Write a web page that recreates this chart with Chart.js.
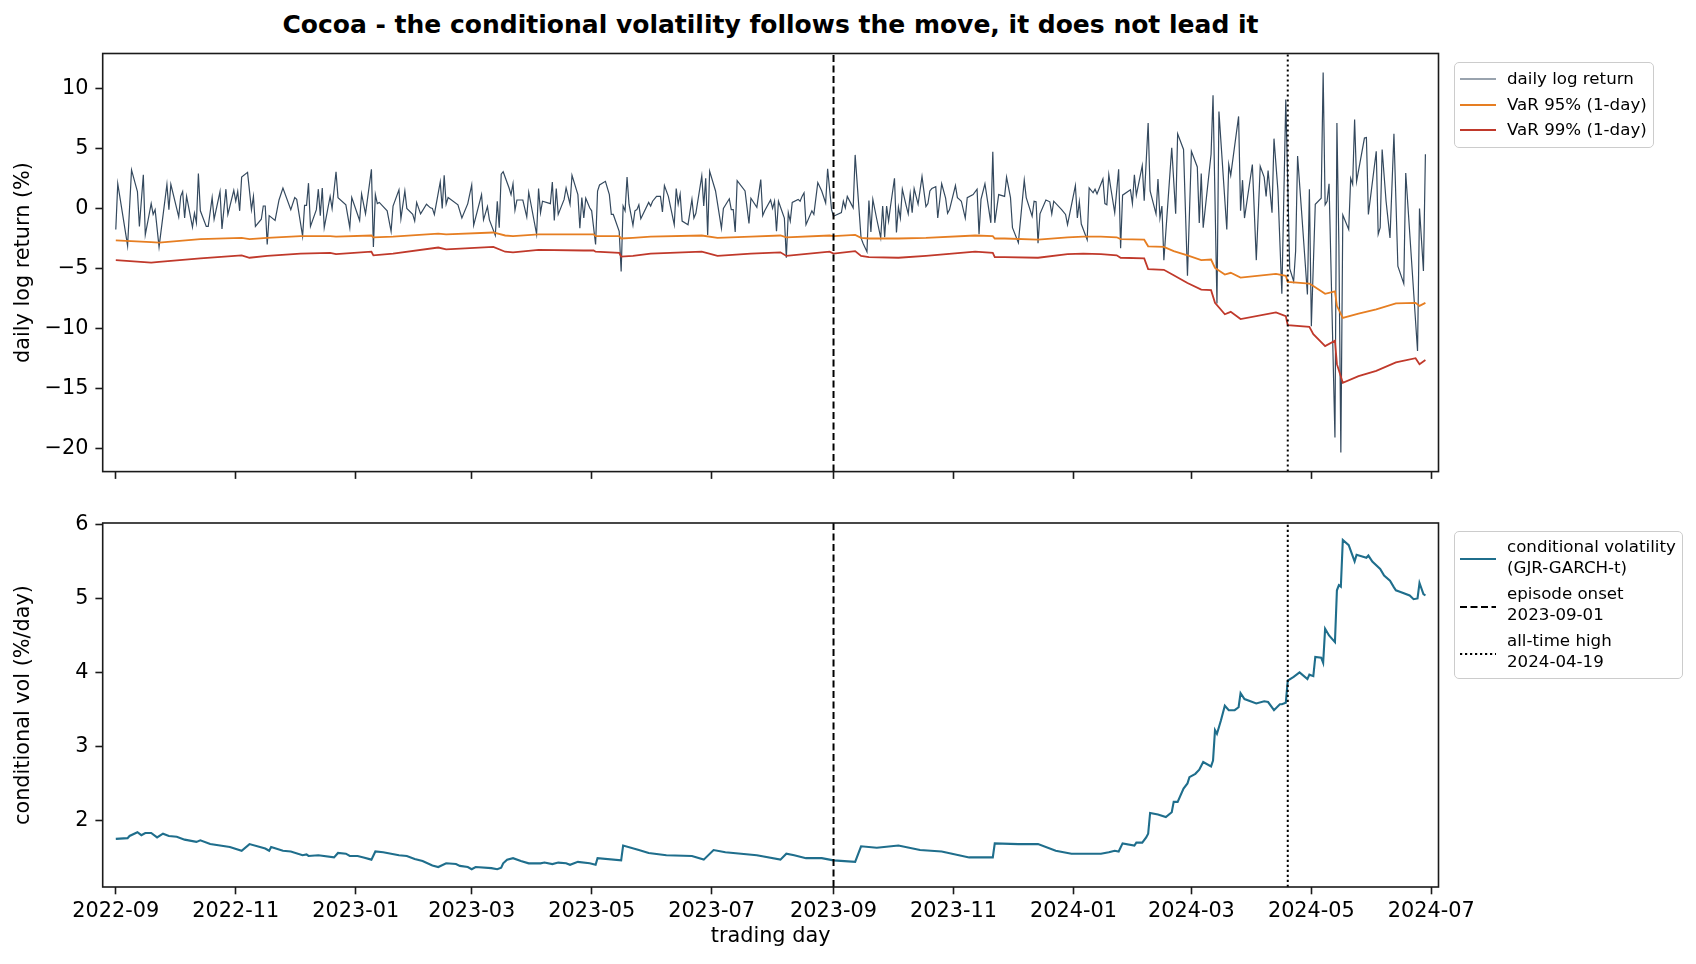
<!DOCTYPE html>
<html>
<head>
<meta charset="utf-8">
<script src="https://cdn.jsdelivr.net/npm/chart.js@4.4.1/dist/chart.umd.min.js"></script>
<style>
  body { margin: 0; background: #fff; width: 1696px; height: 964px; position: relative; overflow: hidden; font-family: "DejaVu Sans", sans-serif; }
  canvas { position: absolute; left: 0; }
  #title { position: absolute; left: 0; top: 9px; width: 1541px; text-align: center; font-weight: bold; font-size: 25px; line-height: 32px; color: #000; }
  .legend { position: absolute; border: 1.3px solid #cccccc; border-radius: 5px; background: rgba(255,255,255,0.8); font-size: 16.67px; color: #000; }
  .legend svg { position: absolute; left: 5px; }
  .legend .txt { position: absolute; left: 52px; white-space: nowrap; line-height: 21px; }
</style>
</head>
<body>
<div id="title">Cocoa - the conditional volatility follows the move, it does not lead it</div>
<canvas id="top" width="1696" height="500" style="top:0"></canvas>
<canvas id="bottom" width="1696" height="464" style="top:500px"></canvas>

<div class="legend" style="left:1454px;top:62px;width:198px;height:84px">
  <svg width="40" height="4" style="top:14px"><line x1="0" y1="2" x2="36" y2="2" stroke="#34495e" stroke-width="1.2"/></svg>
  <div class="txt" style="top:5px">daily log return</div>
  <svg width="40" height="4" style="top:40px"><line x1="0" y1="2" x2="36" y2="2" stroke="#e67e22" stroke-width="2"/></svg>
  <div class="txt" style="top:31px">VaR 95% (1-day)</div>
  <svg width="40" height="4" style="top:65px"><line x1="0" y1="2" x2="36" y2="2" stroke="#c0392b" stroke-width="2"/></svg>
  <div class="txt" style="top:56px">VaR 99% (1-day)</div>
</div>

<div class="legend" style="left:1454px;top:531px;width:227px;height:146px">
  <svg width="40" height="4" style="top:25px"><line x1="0" y1="2" x2="36" y2="2" stroke="#1f6e8c" stroke-width="2"/></svg>
  <div class="txt" style="top:4px">conditional volatility<br>(GJR-GARCH-t)</div>
  <svg width="40" height="4" style="top:73px"><line x1="0" y1="2" x2="36" y2="2" stroke="#000" stroke-width="2" stroke-dasharray="7,3.5"/></svg>
  <div class="txt" style="top:51px">episode onset<br>2023-09-01</div>
  <svg width="40" height="4" style="top:120px"><line x1="0" y1="2" x2="36" y2="2" stroke="#000" stroke-width="2" stroke-dasharray="2.2,2.8"/></svg>
  <div class="txt" style="top:98px">all-time high<br>2024-04-19</div>
</div>

<script>
// x values are calendar days counted from 2022-09-01
const monthTicks = [0, 61, 122, 181, 242, 303, 365, 426, 487, 547, 608, 669];
const monthLabels = ['2022-09', '2022-11', '2023-01', '2023-03', '2023-05', '2023-07',
                     '2023-09', '2023-11', '2024-01', '2024-03', '2024-05', '2024-07'];
const retTicks = [-20, -15, -10, -5, 0, 5, 10];
const volTicks = [2, 3, 4, 5, 6];
const onsetDay = 365;   // 2023-09-01
const athDay = 596;     // 2024-04-19

const retDay = [
  0,1,6,8,11,12,14,15,18,19, 20,22,26,27,28,32,33,34,35,36,
  39,40,41,42,43,46,47,49,50,53, 54,56,57,60,61,62,63,64,67,69,
  70,71,74,75,76,77,78,81,83,85, 89,91,92,95,96,97,98,99,102,103,
  104,105,106,109,110,112,113,117,119,120, 124,125,127,130,131,132,133,134,138,140,
  141,144,145,147,148,151,152,153,155,158, 160,161,162,165,166,167,168,169,174,176,
  179,181,182,186,187,189,190,193,194,195, 196,197,200,201,202,203,204,207,209,210,
  214,215,216,217,221,222,223,224,225,228, 229,231,232,235,236,237,238,239,241,242,
  244,245,246,249,251,252,253,256,257,258, 259,260,261,263,264,265,266,267,271,272,
  273,275,277,278,279,281,284,285,286,287, 288,291,293,294,295,298,299,300,301,302,
  305,308,309,312,313,314,315,316,320,322, 323,326,328,329,330,333,334,335,336,337,
  340,341,342,343,344,347,348,349,350,351, 354,355,357,359,361,362,364,365,369,370,
  371,372,375,376,379,380,382,383,384,385, 387,389,390,391,392,393,394,396,397,398,
  399,400,402,403,404,405,406,408,410,412, 413,414,415,417,418,420,422,423,424,427,
  428,429,430,432,433,436,438,439,440,442, 445,446,447,449,452,453,455,456,459,462,
  463,466,467,468,469,470,473,475,476,477, 481,483,484,488,489,490,491,494,495,497,
  498,499,502,503,504,505,506,508,510,511, 512,516,517,518,519,522,523,525,526,529,
  530,531,532,533,537,539,540,543,545,547, 550,551,552,553,557,558,560,561,565,566,
  567,571,572,573,574,578,580,582,584,585, 586,588,589,591,593,595,597,599,600,601,
  603,606,607,608,610,613,614,615,616,617, 620,621,622,623,624,627,628,629,630,631,
  635,636,637,641,642,643,644,646,648,650, 652,655,656,662,663,665,666
];
const retVal = [
  -1.75,2.05,-3.1,3.2,1.4,-1.5,2.8,-2.2,0.4,-0.5, -0.1,-3.2,2.0,-0.1,2.0,-0.7,1.0,1.4,-0.8,1.0,
  -1.55,-0.4,-1.2,2.9,-0.2,-1.5,-1.5,0.9,-0.9,1.4, -1.7,1.6,-0.5,1.5,0.6,1.4,-0.2,2.6,3.0,-0.1,
  1.0,-1.5,-0.9,0.2,0.2,-3.0,-0.6,-1.0,0.7,1.7, -0.1,0.9,0.75,-2.3,0.25,0.25,2.1,-1.5,-0.1,1.6,
  -0.6,1.7,-1.6,1.0,0,3.05,0.9,0.3,-1.6,0.9, -1.0,1.2,-0.45,3.25,-3.2,1.15,0.4,0.5,-0.2,-1.9,
  0.2,1.55,-0.85,1.45,0,-0.5,-1.05,0.5,-0.45,0.35, 0.05,0,-0.5,2.2,0,2.75,0.35,0.9,0.3,-0.8,
  0.4,1.95,-1.4,1.15,-0.95,0.15,-0.95,-2.25,0.6,-1.6, 2.85,3.05,1.7,1.15,2.05,-0.15,0.7,0.7,-0.7,1.35,
  -2.15,1.65,-0.35,0.6,0.4,2.2,-1.0,1.65,-0.5,0.75, 1.7,0.35,2.75,1.15,-1.65,0.9,-0.8,0.85,0.05,-0.2,
  -3.0,1.45,1.95,2.25,1.15,-0.5,-0.5,-1.9,-5.25,0.2, -0.2,2.6,0.35,-1.4,-0.2,-0.1,0.3,-0.85,0.5,0.2,
  0.6,1.0,1.0,-0.3,1.9,1.0,-1.35,1.65,0.35,1.2, -1.05,-1.35,0.75,-0.8,-0.4,2.7,0.2,2.5,-2.2,3.1,
  1.45,-1.65,0,0.8,-0.1,-0.1,-1.95,2.3,1.45,-1.25, 0.85,0.1,2.4,-0.6,-0.2,0.7,0,0.6,-1.9,0.6,
  -0.8,-4.1,-0.35,-1.05,0.5,0.75,0.6,1.0,1.3,-1.35, -0.2,-0.5,2.15,1.45,0.45,3.3,-0.1,-0.65,-0.35,0.6,
  0.05,1.0,0.05,4.45,-2.45,-2.9,-3.6,0.65,-1.95,0.75, -0.9,-2.45,0.2,-2.4,0.2,-1.05,0.2,2.5,-2.0,0.1,
  -0.8,1.6,0.2,-0.45,1.2,-0.35,1.65,0.35,2.65,0.15, 0.4,1.45,1.65,1.8,-0.8,2.05,0.85,-0.4,-0.1,1.9,
  0.9,0.75,0.6,-0.8,0.9,1.15,1.6,-2.15,0.75,2.05, -1.2,4.7,-1.2,1.15,1.0,2.6,0.9,-1.6,-2.85,2.35,
  0.9,-0.65,0.6,0.55,-2.9,-0.45,0.7,0.55,-0.45,0.6, -0.1,-0.5,-1.35,1.9,-0.8,0.55,-1.3,-2.6,1.7,1.3,
  1.6,1.2,2.45,0.4,0.3,2.8,1.7,-0.35,3.25,-3.3, 1.1,1.55,0.4,2.8,1.1,3.55,0.65,7.1,1.45,-0.45,
  2.45,-0.8,0.2,-4.3,5.05,-0.45,6.2,4.9,-5.6,4.75, 3.45,-1.2,2.9,-1.6,4.5,9.4,-7.9,8.05,-1.75,3.65,
  2.75,7.65,-0.2,2.35,-0.8,3.65,-4.3,3.5,2.6,1.0, 3.15,-0.35,5.8,1.5,-7.1,9.05,-5.0,-6.05,-3.55,4.35,
  -0.2,-7.15,1.6,-9.8,0.35,0.85,11.3,0.3,0.6,2.05, -19.05,7.1,-3.0,-20.3,-0.55,-1.75,2.5,2.0,7.4,2.25,
  5.85,5.9,-0.5,4.75,-2.15,-1.6,4.9,0.6,-2.45,6.2, -4.8,-6.25,2.95,-11.85,0,-5.2,4.5
];

const varDay = [0,18,22,43,64,68,77,94,109,112, 130,131,141,164,168,192,198,202,215,238,
  243,244,256,257,263,272,298,306,323,338, 341,363,365,376,379,383,398,412,437,446,
  447,452,469,484,492,501,509,511,523,525, 533,538,545,552,557,559,564,567,572,590,
  595,596,607,609,615,620,621,624,632,641, 651,661,663,666];
const var95 = [-2.65,-2.8,-2.85,-2.55,-2.45,-2.55,-2.45,-2.3,-2.3,-2.35, -2.25,-2.4,-2.35,-2.1,-2.15,-2.0,-2.25,-2.3,-2.15,-2.15,
  -2.15,-2.3,-2.3,-2.5,-2.45,-2.35,-2.25,-2.45,-2.35,-2.25, -2.4,-2.25,-2.3,-2.2,-2.45,-2.5,-2.5,-2.45,-2.25,-2.3,
  -2.5,-2.5,-2.6,-2.4,-2.35,-2.35,-2.4,-2.55,-2.6,-3.15, -3.2,-3.55,-3.9,-4.3,-4.25,-4.95,-5.5,-5.35,-5.75,-5.45,
  -5.6,-6.1,-6.25,-6.45,-7.1,-6.9,-8.1,-9.1,-8.75,-8.4, -7.9,-7.85,-8.1,-7.85];
const var99 = [-4.3,-4.5,-4.45,-4.15,-3.9,-4.1,-3.95,-3.75,-3.7,-3.8, -3.6,-3.9,-3.75,-3.25,-3.4,-3.2,-3.6,-3.65,-3.45,-3.5,
  -3.5,-3.6,-3.7,-4.0,-3.95,-3.75,-3.6,-3.95,-3.75,-3.65, -3.95,-3.6,-3.75,-3.55,-3.95,-4.05,-4.1,-3.95,-3.6,-3.7,
  -4.05,-4.05,-4.1,-3.8,-3.75,-3.8,-3.9,-4.1,-4.15,-5.05, -5.1,-5.55,-6.2,-6.75,-6.8,-7.85,-8.8,-8.6,-9.2,-8.65,
  -8.95,-9.7,-9.85,-10.45,-11.45,-11.0,-12.95,-14.5,-13.95,-13.5, -12.8,-12.45,-12.95,-12.6];

const volDay = [0,6,7,11,13,15,18,21,24,27, 31,35,41,43,48,58,64,68,76,78,
  79,85,89,95,97,98,103,111,113,117, 119,123,126,130,132,136,144,148,152,156,
  161,164,168,173,175,179,181,183,191,194, 196,197,199,202,206,210,216,218,222,225,
  229,231,235,241,244,245,257,258,266,271, 280,293,299,304,310,326,338,341,345,351,
  359,365,376,379,387,398,409,420,434,446, 447,459,469,478,486,497,501,505,508,510,
  512,518,519,522,524,525,526,530,534,537, 538,540,543,545,546,549,551,553,557,558,
  559,560,562,564,566,569,571,572,574,580, 584,586,589,592,593,595,596,599,602,606,
  607,609,610,613,614,615,617,620,621,622, 623,624,627,630,631,636,637,639,643,645,
  648,650,651,653,658,660,662,663,665,666];
const vol = [1.75,1.76,1.79,1.84,1.80,1.83,1.83,1.77,1.82,1.79, 1.78,1.74,1.71,1.73,1.68,1.64,1.59,1.68,1.62,1.59,
  1.64,1.59,1.58,1.53,1.54,1.52,1.53,1.50,1.56,1.55, 1.52,1.52,1.50,1.47,1.58,1.57,1.53,1.52,1.48,1.45,
  1.39,1.37,1.42,1.41,1.385,1.37,1.34,1.37,1.355,1.34, 1.36,1.42,1.47,1.49,1.45,1.42,1.42,1.43,1.41,1.43,
  1.42,1.40,1.44,1.42,1.40,1.49,1.46,1.66,1.60,1.56, 1.53,1.52,1.47,1.60,1.57,1.53,1.47,1.55,1.53,1.49,
  1.49,1.46,1.44,1.65,1.63,1.66,1.60,1.58,1.50,1.50, 1.69,1.68,1.68,1.59,1.55,1.55,1.55,1.57,1.59,1.58,
  1.69,1.66,1.70,1.70,1.77,1.82,2.10,2.08,2.045,2.11, 2.25,2.25,2.43,2.50,2.585,2.63,2.685,2.79,2.73,2.81,
  3.22,3.17,3.35,3.55,3.49,3.49,3.53,3.72,3.64,3.58, 3.61,3.60,3.49,3.57,3.57,3.59,3.89,3.94,4.0,3.91,
  3.97,3.95,4.21,4.20,4.13,4.59,4.50,4.41,5.11,5.18, 5.16,5.79,5.72,5.50,5.59,5.55,5.58,5.50,5.40,5.31,
  5.24,5.15,5.11,5.09,5.04,4.99,5.0,5.21,5.06,5.04];

const X_MIN = -6.66, X_MAX = 672.66;
const RET_MIN = -21.88, RET_MAX = 12.88;
const VOL_MIN = 1.10, VOL_MAX = 6.02;

Chart.defaults.font.family = "'DejaVu Sans', sans-serif";
Chart.defaults.font.size = 20.8;
Chart.defaults.color = '#000';

const pts = (xs, ys) => xs.map((x, i) => ({ x: x, y: ys[i] }));
const vline = (x, lo, hi) => [{ x: x, y: lo }, { x: x, y: hi }];
const minus = v => (v < 0 ? '\u2212' + Math.abs(v) : String(v));

const framePlugin = {
  id: 'frame',
  afterDatasetsDraw(chart) {
    const { ctx, chartArea: a } = chart;
    ctx.save();
    ctx.strokeStyle = '#1a1a1a';
    ctx.lineWidth = 1.6;
    ctx.strokeRect(a.left, a.top, a.right - a.left, a.bottom - a.top);
    ctx.restore();
  }
};

function axes(yMin, yMax, yTicks, yTitle, showX, xHeight) {
  const tickGrid = { display: true, drawOnChartArea: false, drawTicks: true, tickLength: 7.3, tickWidth: 1.6, tickColor: '#1a1a1a' };
  return {
    x: {
      type: 'linear', min: X_MIN, max: X_MAX,
      grid: tickGrid, border: { display: false },
      afterBuildTicks: s => { s.ticks = monthTicks.map(v => ({ value: v })); },
      afterFit: s => { s.height = xHeight; },
      ticks: {
        display: showX, autoSkip: false, maxRotation: 0, padding: 5,
        callback: (v, i) => monthLabels[i]
      },
      title: { display: showX, text: 'trading day', font: { size: 20.8 }, padding: { top: 0, bottom: 15 } }
    },
    y: {
      type: 'linear', min: yMin, max: yMax,
      grid: tickGrid, border: { display: false },
      afterBuildTicks: s => { s.ticks = yTicks.map(v => ({ value: v })); },
      afterFit: s => { s.width = 102.7; },
      ticks: { padding: 7, callback: v => minus(v) },
      title: { display: true, text: yTitle, font: { size: 20.8 }, padding: { top: 11, bottom: 0 } }
    }
  };
}

const base = {
  responsive: false, animation: false, devicePixelRatio: 1,
  plugins: { legend: { display: false }, tooltip: { enabled: false } },
  elements: { point: { radius: 0 }, line: { tension: 0 } }
};

new Chart(document.getElementById('top'), {
  type: 'line',
  data: {
    datasets: [
      { data: vline(athDay, RET_MIN, RET_MAX), borderColor: '#000', borderWidth: 2, borderDash: [2.2, 2.8] },
      { data: vline(onsetDay, RET_MIN, RET_MAX), borderColor: '#000', borderWidth: 2, borderDash: [7, 3.5] },
      { data: pts(varDay, var99), borderColor: '#c0392b', borderWidth: 1.8 },
      { data: pts(varDay, var95), borderColor: '#e67e22', borderWidth: 1.8 },
      { data: pts(retDay, retVal), borderColor: '#34495e', borderWidth: 1.2 }
    ]
  },
  options: Object.assign({}, base, {
    parsing: false,
    layout: { padding: { top: 53.5, right: 257.5, left: 0, bottom: 0 } },
    scales: axes(RET_MIN, RET_MAX, retTicks, 'daily log return (%)', false, 28.4)
  }),
  plugins: [framePlugin]
});

new Chart(document.getElementById('bottom'), {
  type: 'line',
  data: {
    datasets: [
      { data: vline(athDay, VOL_MIN, VOL_MAX), borderColor: '#000', borderWidth: 2, borderDash: [2.2, 2.8] },
      { data: vline(onsetDay, VOL_MIN, VOL_MAX), borderColor: '#000', borderWidth: 2, borderDash: [7, 3.5] },
      { data: pts(volDay, vol), borderColor: '#1f6e8c', borderWidth: 2.1 }
    ]
  },
  options: Object.assign({}, base, {
    parsing: false,
    layout: { padding: { top: 23, right: 257.5, left: 0, bottom: 0 } },
    scales: axes(VOL_MIN, VOL_MAX, volTicks, 'conditional vol (%/day)', true, 77)
  }),
  plugins: [framePlugin]
});
</script>
</body>
</html>
